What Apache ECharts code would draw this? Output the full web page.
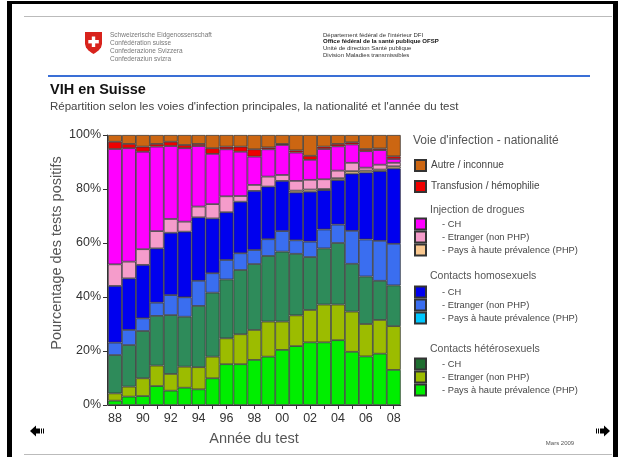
<!DOCTYPE html>
<html>
<head>
<meta charset="utf-8">
<script src="https://cdn.jsdelivr.net/npm/echarts@6/dist/echarts.min.js"></script>
<style>
html,body{margin:0;padding:0;background:#fff;}
#c{width:618px;height:457px;}
</style>
</head>
<body>
<div id="c"></div>
<script>
// ---- data (percent of positive tests) ----
const years = ['88','89','90','91','92','93','94','95','96','97','98','99','00','01','02','03','04','05','06','07','08'];
const yTicks = [0, 20, 40, 60, 80, 100];

const heteroPHP  = [1.6,3.1,3.3,7.0,5.3,6.4,5.8,9.9,15.1,15.1,16.7,17.9,20.4,21.8,23.2,23.2,24.0,19.7,18.0,19.0,13.0];
const heteroEtr  = [2.7,3.7,6.6,7.6,6.2,7.8,8.2,8.0,9.6,11.1,11.1,13.0,10.5,11.4,12.0,14.0,13.2,14.9,12.0,12.5,16.2];
const heteroCH   = [14.2,15.4,17.5,18.4,21.8,18.5,22.7,23.7,21.8,23.8,24.4,24.3,25.9,22.8,19.6,20.8,22.8,17.7,17.6,14.5,15.1];
const homoPHP    = [0,0,0,0,0,0,0,0,0,0,0,0,0,0,0,0,0,0,0,0,0];
const homoEtr    = [4.6,5.6,4.7,4.9,7.4,7.2,9.3,7.2,7.2,6.2,5.2,6.2,7.6,5.0,5.7,7.0,6.8,12.2,13.7,14.8,15.4];
const homoCH     = [21.0,19.1,19.8,20.1,23.1,24.3,23.5,20.3,17.7,19.1,21.9,19.5,18.6,17.7,18.5,14.6,16.5,21.2,24.8,25.8,27.9];
const drugPHP    = [0,0,0,0,0,0,0,0,0,0,0,0,0,0.7,0.8,0.4,0.7,0.9,0.7,0.6,0.8];
const drugEtr    = [8.0,6.2,5.8,6.4,5.1,3.7,4.0,5.3,5.9,2.1,2.2,3.7,2.2,3.6,3.6,3.6,2.8,3.1,1.1,1.8,1.3];
const drugCH     = [42.7,42.0,36.1,31.3,27.0,27.2,22.4,18.6,17.4,16.4,10.5,10.1,11.1,10.5,7.4,11.2,9.0,6.8,6.1,5.4,1.4];
const transfusion= [2.7,1.6,1.9,1.0,1.6,1.2,0.8,2.1,1.0,1.9,2.7,0.7,0.4,0.8,1.5,0.9,0.9,0.8,0.8,0.6,1.0];
const autre      = [2.5,3.3,4.3,3.3,2.5,3.7,3.3,4.9,4.3,4.3,5.3,4.6,3.3,5.7,7.7,4.3,3.3,2.7,5.2,5.0,7.9];

// series definitions, bottom of stack first
const seriesDefs = [
  {name:'Contacts hétérosexuels - Pays', label:'- Pays à haute prévalence (PHP)', data:heteroPHP, color:'#00ee00'},
  {name:'Contacts hétérosexuels - Etranger', label:'- Etranger (non PHP)', data:heteroEtr, color:'#9cbc00'},
  {name:'Contacts hétérosexuels - CH', label:'- CH', data:heteroCH, color:'#2e8b5a', legendColor:'#1f6e30'},
  {name:'Contacts homosexuels - Pays', label:'- Pays à haute prévalence (PHP)', data:homoPHP, color:'#00c8ff'},
  {name:'Contacts homosexuels - Etranger', label:'- Etranger (non PHP)', data:homoEtr, color:'#3a6ef0'},
  {name:'Contacts homosexuels - CH', label:'- CH', data:homoCH, color:'#0000ee'},
  {name:'Injection de drogues - Pays', label:'- Pays à haute prévalence (PHP)', data:drugPHP, color:'#f9c890'},
  {name:'Injection de drogues - Etranger', label:'- Etranger (non PHP)', data:drugEtr, color:'#f59ccb'},
  {name:'Injection de drogues - CH', label:'- CH', data:drugCH, color:'#ff00ff'},
  {name:'Transfusion / hémophilie', label:'Transfusion / hémophilie', data:transfusion, color:'#ee0000'},
  {name:'Autre / inconnue', label:'Autre / inconnue', data:autre, color:'#cc6612'}
];
const labelMap = {};
seriesDefs.forEach(s => labelMap[s.name] = s.label);

const FONT = '"Liberation Sans", Arial, sans-serif';

const series = seriesDefs.map(s => ({
  name: s.name,
  type: 'bar',
  stack: 'total',
  barWidth: '100%',
  data: s.data.map(v => v === 0 ? null : v),
  itemStyle: {color: s.color, borderColor: '#333', borderWidth: 0.75},
  emphasis: {disabled: true}
}));

function legendData(names) {
  return names.map(n => {
    const d = seriesDefs.find(s => s.name === n);
    const o = {name: n};
    if (d.legendColor) o.itemStyle = {color: d.legendColor};
    return o;
  });
}
function mkLegend(names, top, sub) {
  return {
    orient: 'vertical', left: 414, top: top, padding: 0,
    itemWidth: 11, itemHeight: 11, itemGap: sub ? 0 : 8,
    icon: 'rect', selectedMode: false,
    data: legendData(names),
    formatter: n => labelMap[n],
    textStyle: {fontFamily: FONT, fontSize: sub ? 9.3 : 10, color: '#444', padding: sub ? [0,0,0,11] : 0}
  };
}

const txt = (x, y, t, size, color, extra) => ({
  type: 'text', x: x, y: y, silent: true,
  style: Object.assign({text: t, fontFamily: FONT, fontSize: size, fill: color, verticalAlign: 'middle'}, extra || {})
});

// shield outline points
const shieldPts = [[85,32],[102,32],[102,44],[101,47.5],[98.5,50.5],[95.5,52.7],[93.5,54],[91.5,52.7],[88.5,50.5],[86,47.5],[85,44]];

const graphics = [
  // frame
  {type:'rect', shape:{x:7,y:1,width:611,height:3}, style:{fill:'#000'}},
  {type:'rect', shape:{x:7,y:1,width:5,height:456}, style:{fill:'#000'}},
  {type:'rect', shape:{x:613,y:1,width:5,height:456}, style:{fill:'#000'}},
  {type:'line', shape:{x1:24,y1:16.5,x2:612,y2:16.5}, style:{stroke:'#bbb', lineWidth:1}},
  {type:'line', shape:{x1:24,y1:454.5,x2:612,y2:454.5}, style:{stroke:'#bbb', lineWidth:1}},
  // swiss shield
  {type:'polygon', shape:{points:shieldPts}, style:{fill:'#d8231c'}},
  {type:'rect', shape:{x:91.8,y:36.5,width:3.4,height:10.5}, style:{fill:'#fff'}},
  {type:'rect', shape:{x:88.3,y:40,width:10.5,height:3.4}, style:{fill:'#fff'}},
  txt(110, 35, 'Schweizerische Eidgenossenschaft', 6.5, '#777'),
  txt(110, 43, 'Confédération suisse', 6.5, '#777'),
  txt(110, 51, 'Confederazione Svizzera', 6.5, '#777'),
  txt(110, 59, 'Confederaziun svizra', 6.5, '#777'),
  txt(323, 35, "Département fédéral de l'intérieur DFI", 6, '#333'),
  txt(323, 41.7, 'Office fédéral de la santé publique OFSP', 6, '#111', {fontWeight:'bold'}),
  txt(323, 48.3, 'Unité de direction Santé publique', 6, '#333'),
  txt(323, 55, 'Division Maladies transmissibles', 6, '#333'),
  {type:'line', shape:{x1:48,y1:76,x2:590,y2:76}, style:{stroke:'#3a6fd6', lineWidth:2}},
  txt(50, 90, 'VIH en Suisse', 14.5, '#111', {fontWeight:'bold'}),
  txt(50, 107, "Répartition selon les voies d'infection principales, la nationalité et l'année du test", 11.5, '#444'),
  // legend headings
  txt(413, 141, "Voie d'infection - nationalité", 12, '#555'),
  txt(430, 210, 'Injection de drogues', 10.5, '#555'),
  txt(430, 276, 'Contacts homosexuels', 10.5, '#555'),
  txt(430, 349, 'Contacts hétérosexuels', 10.5, '#555'),
  // axis titles
  txt(254, 439, 'Année du test', 14.5, '#555', {align:'center'}),
  {type:'text', x:57, y:253, rotation:Math.PI/2, silent:true,
   style:{text:'Pourcentage des tests positifs', fontFamily:FONT, fontSize:14.5, fill:'#555', align:'center', verticalAlign:'middle'}},
  // date
  txt(560, 443, 'Mars 2009', 6, '#555', {align:'center'}),
  // left arrow
  {type:'polygon', shape:{points:[[30,431],[36,425.5],[36,436.5]]}, style:{fill:'#000'}},
  {type:'rect', shape:{x:36,y:428.5,width:4,height:5}, style:{fill:'#000'}},
  {type:'rect', shape:{x:41,y:428.5,width:1,height:5}, style:{fill:'#000'}},
  {type:'rect', shape:{x:43,y:428.5,width:1,height:5}, style:{fill:'#000'}},
  // right arrow
  {type:'polygon', shape:{points:[[610,431],[604,425.5],[604,436.5]]}, style:{fill:'#000'}},
  {type:'rect', shape:{x:600,y:428.5,width:4,height:5}, style:{fill:'#000'}},
  {type:'rect', shape:{x:598,y:428.5,width:1,height:5}, style:{fill:'#000'}},
  {type:'rect', shape:{x:596,y:428.5,width:1,height:5}, style:{fill:'#000'}}
];

const chart = echarts.init(document.getElementById('c'), null, {renderer:'canvas'});
chart.setOption({
  animation: false,
  backgroundColor: '#fff',
  textStyle: {fontFamily: FONT},
  grid: {left: 108, top: 135, width: 292.7, height: 270, containLabel: false},
  xAxis: {
    type: 'category', data: years,
    axisLine: {show: true, lineStyle: {color: '#333', width: 1}},
    axisTick: {show: true, alignWithLabel: true, interval: 0, length: 4, lineStyle: {color: '#333'}},
    axisLabel: {interval: 1, fontSize: 12.5, color: '#333', margin: 7, fontFamily: FONT}
  },
  yAxis: {
    type: 'value', min: yTicks[0], max: yTicks[yTicks.length-1], interval: 20, offset: 1,
    axisLine: {show: true, lineStyle: {color: '#333', width: 1}},
    axisTick: {show: true, length: 4, lineStyle: {color: '#333'}},
    splitLine: {show: false},
    axisLabel: {formatter: '{value}%', fontSize: 12.5, color: '#333', margin: 6, fontFamily: FONT}
  },
  legend: [
    mkLegend(['Autre / inconnue', 'Transfusion / hémophilie'], 159, false),
    mkLegend(['Injection de drogues - CH', 'Injection de drogues - Etranger', 'Injection de drogues - Pays'], 217.5, true),
    mkLegend(['Contacts homosexuels - CH', 'Contacts homosexuels - Etranger', 'Contacts homosexuels - Pays'], 285.5, true),
    mkLegend(['Contacts hétérosexuels - CH', 'Contacts hétérosexuels - Etranger', 'Contacts hétérosexuels - Pays'], 357.5, true)
  ],
  series: series,
  graphic: graphics
});
</script>
</body>
</html>
